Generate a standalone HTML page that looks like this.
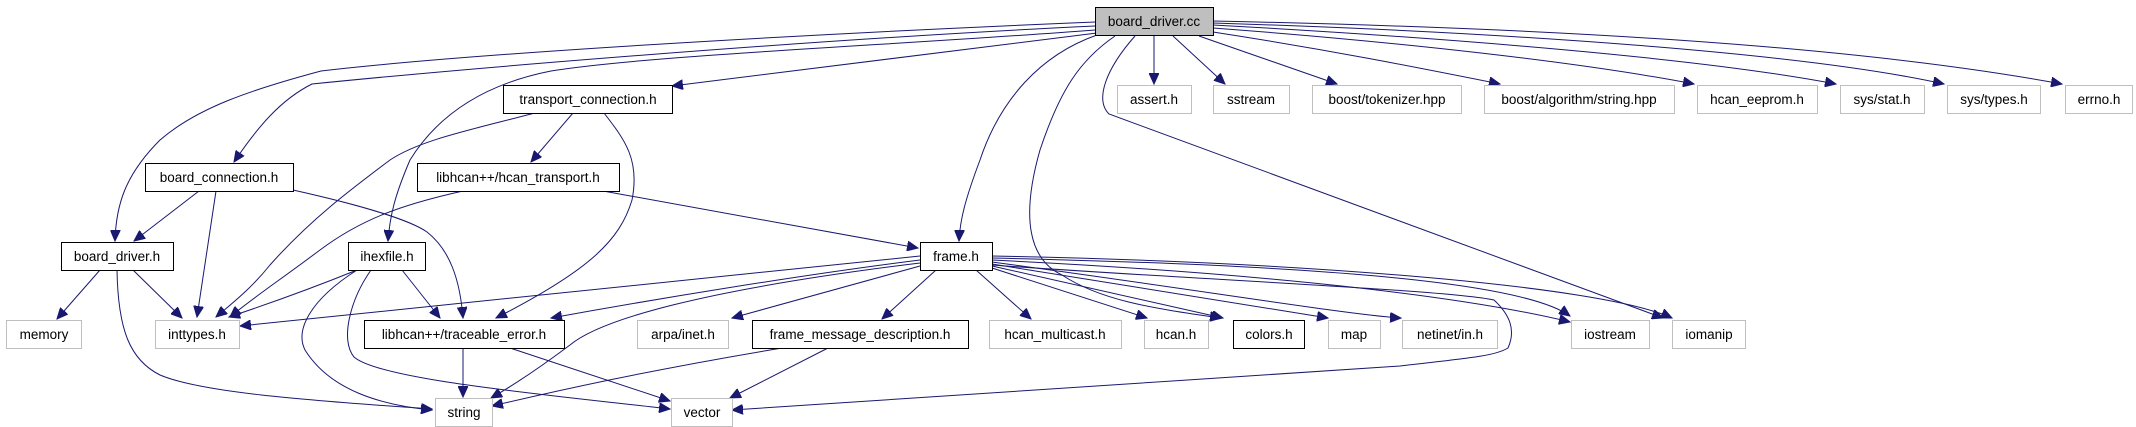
<!DOCTYPE html>
<html><head><meta charset="utf-8"><style>
html,body{margin:0;padding:0;background:#fff;}
svg{display:block;}
text{font-family:"Liberation Sans",sans-serif;font-size:13.5px;fill:#000;text-anchor:middle;}
.e{fill:none;stroke:#191970;stroke-width:1;}
.b{fill:#fff;stroke:#000;stroke-width:1;}
.g{fill:#fff;stroke:#bfbfbf;stroke-width:1;}
</style></head><body>
<svg width="2136" height="427" viewBox="0 0 2136 427" xmlns="http://www.w3.org/2000/svg">
<defs><marker id="a" markerUnits="userSpaceOnUse" markerWidth="12" markerHeight="10" refX="11" refY="5" orient="auto"><path d="M0,0 L11,5 L0,10 Z" fill="#191970" stroke="#191970"/></marker></defs>
<g marker-end="url(#a)">
<!-- board_driver.cc edges -->
<path class="e" d="M1095,22 C900,30 500,50 321,71 C250,90 197,108 160,140 C125,175 116,205 115,241"/>
<path class="e" d="M1095,26 C800,40 450,70 312,84 C280,100 257,128 234,162"/>
<path class="e" d="M1095,30 C900,45 650,55 551,71 C480,85 436,118 410,160 C395,195 390,215 388,241"/>
<path class="e" d="M1097,33 L672,86"/>
<path class="e" d="M1097,35 C1040,55 1000,100 980,160 C965,200 960,220 959,241"/>
<path class="e" d="M1115,36 C1080,60 1060,90 1040,150 C1020,220 1030,260 1062,275 C1100,300 1150,308 1221,318"/>
<path class="e" d="M1135,36 C1105,70 1095,100 1109,114 L1663,318"/>
<path class="e" d="M1154,36 L1154,84"/>
<path class="e" d="M1173,36 L1225,84"/>
<path class="e" d="M1199,36 L1337,84"/>
<path class="e" d="M1213,32 C1330,50 1420,68 1500,84"/>
<path class="e" d="M1213,28 C1400,42 1580,62 1694,84"/>
<path class="e" d="M1213,25 C1450,38 1700,58 1836,84"/>
<path class="e" d="M1213,23 C1500,32 1800,52 1944,84"/>
<path class="e" d="M1213,21 C1550,28 1850,45 2062,84"/>
<!-- transport_connection.h -->
<path class="e" d="M535,113 C470,130 420,140 390,160 C350,190 310,220 270,265 C250,290 230,305 216,317"/>
<path class="e" d="M573,113 L531,162"/>
<path class="e" d="M604,113 C625,140 640,160 632,200 C620,240 590,270 496,318"/>
<!-- board_connection.h -->
<path class="e" d="M199,191 L134,241"/>
<path class="e" d="M216,191 L197,317"/>
<path class="e" d="M293,190 C360,205 410,220 427,232 C450,250 460,280 463,318"/>
<!-- hcan_transport.h -->
<path class="e" d="M463,191 C400,205 360,220 320,250 C280,280 250,300 230,317"/>
<path class="e" d="M603,191 L918,248"/>
<!-- board_driver.h -->
<path class="e" d="M100,270 L57,319"/>
<path class="e" d="M133,270 L182,318"/>
<path class="e" d="M117,270 C118,330 130,360 160,375 C200,392 300,400 432,409"/>
<!-- ihexfile.h -->
<path class="e" d="M357,270 C320,285 280,300 229,317"/>
<path class="e" d="M402,270 L440,318"/>
<path class="e" d="M357,270 C310,300 295,330 305,350 C330,390 380,405 432,410"/>
<path class="e" d="M371,270 C350,300 340,340 354,357 C380,380 550,395 670,409"/>
<!-- traceable_error.h -->
<path class="e" d="M463,348 L463,397"/>
<path class="e" d="M510,348 L670,401"/>
<!-- frame_message_description.h -->
<path class="e" d="M782,348 C650,370 560,390 492,406"/>
<path class="e" d="M828,348 L730,398"/>
<!-- frame.h -->
<path class="e" d="M920,256 L240,326"/>
<path class="e" d="M920,260 C800,275 650,300 551,318"/>
<path class="e" d="M920,263 C700,290 600,320 570,345 C530,375 505,390 491,398"/>
<path class="e" d="M920,266 L732,318"/>
<path class="e" d="M936,270 L882,319"/>
<path class="e" d="M976,270 L1031,319"/>
<path class="e" d="M992,268 L1147,318"/>
<path class="e" d="M992,266 L1223,318"/>
<path class="e" d="M992,264 L1328,318"/>
<path class="e" d="M992,262 C1200,290 1350,315 1401,318"/>
<path class="e" d="M992,260 C1300,275 1480,300 1570,322"/>
<path class="e" d="M992,258 C1300,265 1520,280 1570,316"/>
<path class="e" d="M992,256 C1300,262 1600,285 1672,318"/>
<path class="e" d="M992,265 C1200,280 1450,290 1494,300 C1510,315 1516,330 1508,348 C1495,356 1470,358 1400,366 L732,410"/>
</g>
<!-- nodes -->
<rect x="1095.5" y="7.5" width="118" height="28" fill="#bfbfbf" stroke="#000"/><text x="1154" y="26">board_driver.cc</text>
<rect class="b" x="503.5" y="85.5" width="169" height="28"/><text x="588" y="104">transport_connection.h</text>
<rect class="b" x="145.5" y="163.5" width="148" height="28"/><text x="219" y="182">board_connection.h</text>
<rect class="b" x="417.5" y="163.5" width="202" height="28"/><text x="518" y="182">libhcan++/hcan_transport.h</text>
<rect class="b" x="61.5" y="242.5" width="112" height="28"/><text x="117" y="261">board_driver.h</text>
<rect class="b" x="348.5" y="242.5" width="77" height="28"/><text x="387" y="261">ihexfile.h</text>
<rect class="b" x="920.5" y="242.5" width="72" height="28"/><text x="956" y="261">frame.h</text>
<rect class="g" x="6.5" y="320.5" width="75" height="28"/><text x="44" y="339">memory</text>
<rect class="g" x="155.5" y="320.5" width="84" height="28"/><text x="197" y="339">inttypes.h</text>
<rect class="b" x="364.5" y="320.5" width="200" height="28"/><text x="464" y="339">libhcan++/traceable_error.h</text>
<rect class="g" x="637.5" y="320.5" width="91" height="28"/><text x="683" y="339">arpa/inet.h</text>
<rect class="b" x="752.5" y="320.5" width="216" height="28"/><text x="860" y="339">frame_message_description.h</text>
<rect class="g" x="989.5" y="320.5" width="132" height="28"/><text x="1055" y="339">hcan_multicast.h</text>
<rect class="g" x="1144.5" y="320.5" width="64" height="28"/><text x="1176" y="339">hcan.h</text>
<rect class="b" x="1233.5" y="320.5" width="71" height="28"/><text x="1269" y="339">colors.h</text>
<rect class="g" x="1328.5" y="320.5" width="52" height="28"/><text x="1354" y="339">map</text>
<rect class="g" x="1402.5" y="320.5" width="95" height="28"/><text x="1450" y="339">netinet/in.h</text>
<rect class="g" x="1571.5" y="320.5" width="78" height="28"/><text x="1610" y="339">iostream</text>
<rect class="g" x="1672.5" y="320.5" width="73" height="28"/><text x="1709" y="339">iomanip</text>
<rect class="g" x="435.5" y="398.5" width="57" height="28"/><text x="464" y="417">string</text>
<rect class="g" x="671.5" y="398.5" width="61" height="28"/><text x="702" y="417">vector</text>
<rect class="g" x="1117.5" y="85.5" width="74" height="28"/><text x="1154" y="104">assert.h</text>
<rect class="g" x="1213.5" y="85.5" width="76" height="28"/><text x="1251" y="104">sstream</text>
<rect class="g" x="1312.5" y="85.5" width="149" height="28"/><text x="1387" y="104">boost/tokenizer.hpp</text>
<rect class="g" x="1484.5" y="85.5" width="190" height="28"/><text x="1579" y="104">boost/algorithm/string.hpp</text>
<rect class="g" x="1697.5" y="85.5" width="120" height="28"/><text x="1757" y="104">hcan_eeprom.h</text>
<rect class="g" x="1840.5" y="85.5" width="84" height="28"/><text x="1882" y="104">sys/stat.h</text>
<rect class="g" x="1947.5" y="85.5" width="93" height="28"/><text x="1994" y="104">sys/types.h</text>
<rect class="g" x="2065.5" y="85.5" width="67" height="28"/><text x="2099" y="104">errno.h</text>
</svg>
</body></html>
